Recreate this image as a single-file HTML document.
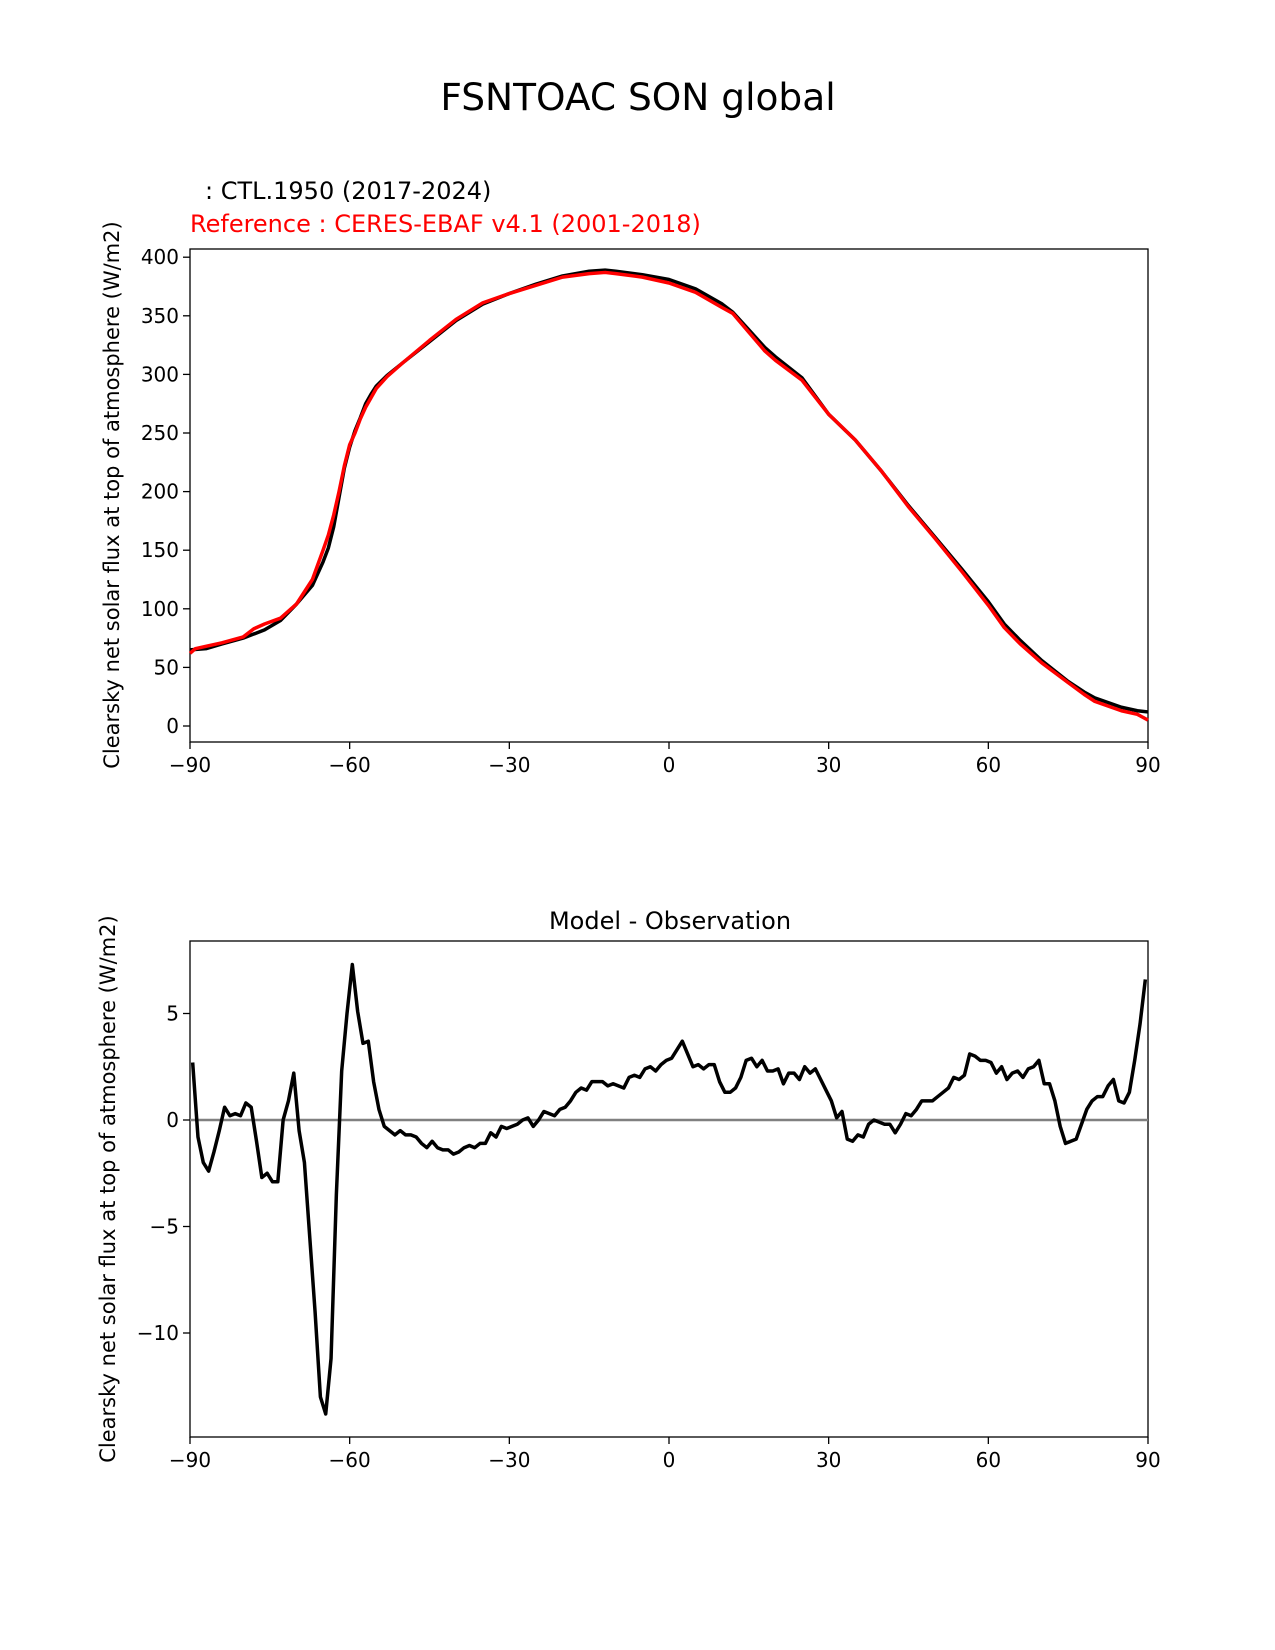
<!DOCTYPE html>
<html><head><meta charset="utf-8"><style>
body{margin:0;background:#fff}
svg{display:block;font-family:"DejaVu Sans","Liberation Sans",sans-serif}
</style></head><body>
<svg id="chart" width="1275" height="1650" viewBox="0 0 1275 1650" xmlns="http://www.w3.org/2000/svg">
<rect width="1275" height="1650" fill="#fff"/>
<text x="638" y="110" font-size="37.5" text-anchor="middle">FSNTOAC SON global</text>
<text x="205" y="199" font-size="24">: CTL.1950 (2017-2024)</text>
<text x="190" y="232" font-size="24" fill="#ff0000">Reference : CERES-EBAF v4.1 (2001-2018)</text>
<text transform="translate(119,495) rotate(-90)" font-size="21" text-anchor="middle">Clearsky net solar flux at top of atmosphere (W/m2)</text>
<text x="670" y="929" font-size="24" text-anchor="middle">Model - Observation</text>
<text transform="translate(115,1189) rotate(-90)" font-size="21" text-anchor="middle">Clearsky net solar flux at top of atmosphere (W/m2)</text>
<g id="top"></g><g id="bot"></g>
</svg>
<script>
const xTicks=[-90,-60,-30,0,30,60,90];
const xTickLabels=["\u221290","\u221260","\u221230","0","30","60","90"];
const topYTicks=[0,50,100,150,200,250,300,350,400];
const botYTicks=[5,0,-5,-10];
const botYTickLabels=["5","0","\u22125","\u221210"];
const modelLat=[-90,-87,-84,-80,-76,-73,-70,-67,-65,-64,-63,-62,-61,-60,-59,-58,-57,-56,-55,-53,-50,-45,-40,-35,-30,-25,-20,-15,-12,-10,-5,0,5,10,12,15,18,20,25,30,35,40,45,50,55,60,63,66,70,75,78,80,85,88,90];
const modelVal=[65,66,70,75,82,90,104,120,140,152,170,195,220,238,252,263,275,283,290,299,310,328,346,360,369,377,384,388,389,388,385,381,373,360,353,338,323,315,297,266,244,217,188,161,134,106,87,73,56,38,29,24,16,13,12];
const refLat=[-90,-89,-87,-84,-80,-78,-76,-73,-70,-67,-65,-64,-63,-62,-61,-60,-59,-58,-57,-56,-55,-53,-50,-45,-40,-35,-30,-25,-20,-15,-12,-10,-5,0,5,10,12,15,18,20,25,30,35,40,45,50,55,60,63,66,70,75,78,80,85,88,90];
const refVal=[62,66,68,71,76,83,87,92,104,125,150,163,180,200,222,240,250,262,272,280,288,298,310,329,347,361,369,376,383,386,387,386,383,378,370,357,352,336,320,312,295,266,244,217,187,160,132,103,84,70,54,37,27,21,13,10,5];
const diffVal=[2.7,-0.8,-2.0,-2.4,-1.5,-0.5,0.6,0.2,0.3,0.2,0.8,0.6,-1.0,-2.7,-2.5,-2.9,-2.9,0.0,0.9,2.2,-0.5,-2.0,-5.5,-9.0,-13.0,-13.8,-11.2,-3.5,2.3,5.0,7.3,5.1,3.6,3.7,1.8,0.5,-0.3,-0.5,-0.7,-0.5,-0.7,-0.7,-0.8,-1.1,-1.3,-1.0,-1.3,-1.4,-1.4,-1.6,-1.5,-1.3,-1.2,-1.3,-1.1,-1.1,-0.6,-0.8,-0.3,-0.4,-0.3,-0.2,0.0,0.1,-0.3,0.0,0.4,0.3,0.2,0.5,0.6,0.9,1.3,1.5,1.4,1.8,1.8,1.8,1.6,1.7,1.6,1.5,2.0,2.1,2.0,2.4,2.5,2.3,2.6,2.8,2.9,3.3,3.7,3.1,2.5,2.6,2.4,2.6,2.6,1.8,1.3,1.3,1.5,2.0,2.8,2.9,2.5,2.8,2.3,2.3,2.4,1.7,2.2,2.2,1.9,2.5,2.2,2.4,1.9,1.4,0.9,0.1,0.4,-0.9,-1.0,-0.7,-0.8,-0.2,0.0,-0.1,-0.2,-0.2,-0.6,-0.2,0.3,0.2,0.5,0.9,0.9,0.9,1.1,1.3,1.5,2.0,1.9,2.1,3.1,3.0,2.8,2.8,2.7,2.2,2.5,1.9,2.2,2.3,2.0,2.4,2.5,2.8,1.7,1.7,0.9,-0.3,-1.1,-1.0,-0.9,-0.2,0.5,0.9,1.1,1.1,1.6,1.9,0.9,0.8,1.3,2.8,4.5,6.6];
const diffLat=diffVal.map((v,i)=>-89.5+i);

const NS="http://www.w3.org/2000/svg";
function mk(parent,tag,attrs){const e=document.createElementNS(NS,tag);for(const k in attrs)e.setAttribute(k,attrs[k]);parent.appendChild(e);return e;}
const X0=190,X1=1148;
const xs=v=>X0+(v+90)/180*(X1-X0);
const topY=v=>726-v*1.172;
const botY=v=>1120-v*21.3;

function axes(g,top,bottom,yfun,yt,ytl,prefix){
  const f=mk(g,'rect',{x:X0,y:top,width:X1-X0,height:bottom-top,fill:'none',stroke:'#000','stroke-width':1.3});
  
  
  xTicks.forEach((t,i)=>{
    mk(g,'line',{x1:xs(t),x2:xs(t),y1:bottom,y2:bottom+7,stroke:'#000','stroke-width':1.3});
    const tx=mk(g,'text',{x:xs(t),y:bottom+30,'font-size':20,'text-anchor':'middle'});
    tx.textContent=xTickLabels[i];
    
    
  });
  yt.forEach((t,i)=>{
    mk(g,'line',{x1:X0-7,x2:X0,y1:yfun(t),y2:yfun(t),stroke:'#000','stroke-width':1.3});
    const tx=mk(g,'text',{x:X0-11,y:yfun(t)+7,'font-size':20,'text-anchor':'end'});
    tx.textContent=ytl[i];
    
    
  });
}
function line(g,lx,ly,yfun,color,name,w){
  const p=mk(g,'polyline',{points:lx.map((x,i)=>xs(x)+','+yfun(ly[i])).join(' '),fill:'none',stroke:color,'stroke-width':w,'stroke-linejoin':'round'});
  
  
}
const gt=document.getElementById('top');
axes(gt,249,742,topY,topYTicks,topYTicks.map(String),'top');
line(gt,modelLat,modelVal,topY,'#000','model-line',3.5);
line(gt,refLat,refVal,topY,'#ff0000','reference-line',3.5);
const gb=document.getElementById('bot');
axes(gb,941,1437,botY,botYTicks,botYTickLabels,'bottom');
const z=mk(gb,'line',{x1:X0,x2:X1,y1:botY(0),y2:botY(0),stroke:'#808080','stroke-width':2.5});


line(gb,diffLat,diffVal,botY,'#000','difference-line',3.5);
</script>
</body></html>
